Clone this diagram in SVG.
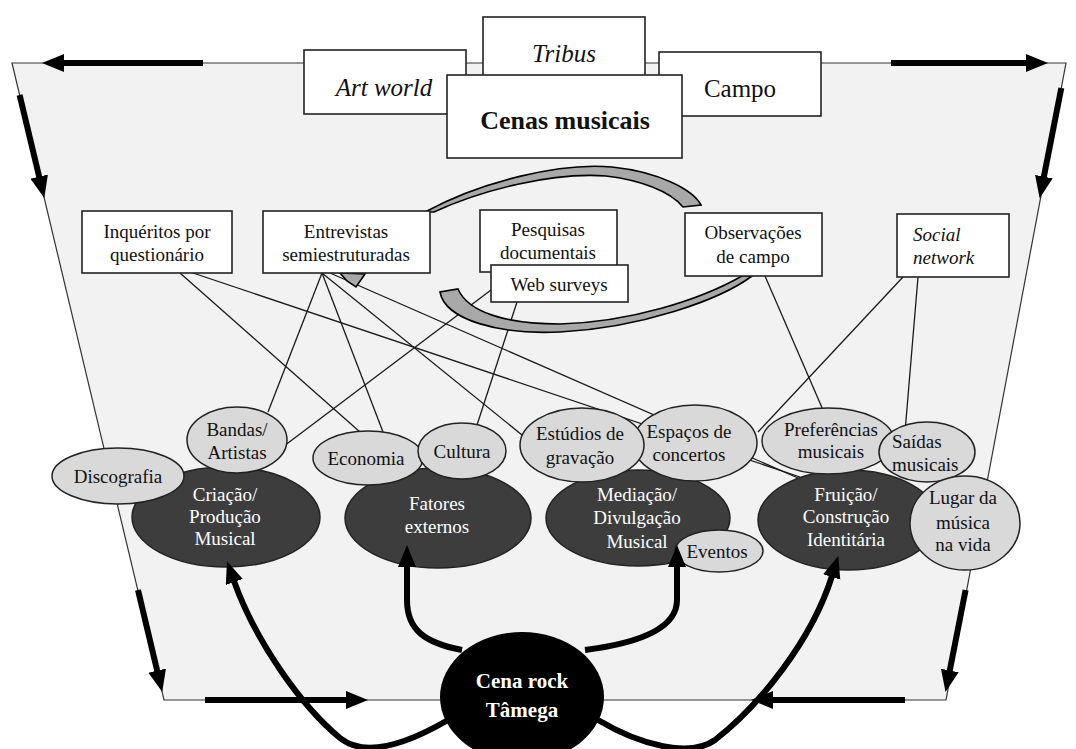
<svg xmlns="http://www.w3.org/2000/svg" width="1076" height="749" viewBox="0 0 1076 749" font-family="'Liberation Serif', 'Times New Roman', serif">
  <style>
    .bg { fill: #f2f2f2; stroke: #333; stroke-width: 1.2; }
    .box { fill: #fff; stroke: #222; stroke-width: 1.6; }
    .lite { fill: #d9d9d9; stroke: #222; stroke-width: 1.5; }
    .dark { fill: #3d3d3d; stroke: #222; stroke-width: 1.5; }
    .link { stroke: #1a1a1a; stroke-width: 1.3; fill: none; }
    .thick { stroke: #000; stroke-width: 6; fill: none; marker-end: url(#ah); }
    .band { fill: #a8a8a8; stroke: #000; stroke-width: 1.6; }
    text { font-family: "Liberation Serif", "Times New Roman", serif; fill: #111; }
    .t { font-size: 19px; text-anchor: middle; }
    .tl { font-size: 19px; text-anchor: start; }
    .w { fill: #fff; }
    .big { font-size: 25px; text-anchor: middle; }
    .it { font-style: italic; }
    .b { font-weight: bold; }
  </style>
  <defs>
    <marker id="ah" markerUnits="userSpaceOnUse" markerWidth="24" markerHeight="20" refX="1" refY="9" orient="auto">
      <path d="M0,0 L22,9 L0,18 Z" fill="#000"/>
    </marker>
  </defs>

  <!-- framing trapezoid -->
  <polygon class="bg" points="12,63 1066,63 946,700 164,700"/>

  <!-- flow arrows along the frame -->
  <g id="frame-arrows">
    <path class="thick" d="M203,63 L63,63"/>
    <path class="thick" d="M891,63 L1027,63"/>
    <path class="thick" d="M19.6,95 L39.4,177.6"/>
    <path class="thick" d="M138,590 L157.4,671.6"/>
    <path class="thick" d="M1061.3,88 L1043.7,177.6"/>
    <path class="thick" d="M965.6,590 L949.6,671.4"/>
    <path class="thick" d="M205,700 L347,700"/>
    <path class="thick" d="M905,700 L772,700"/>
  </g>

  <!-- method-to-dimension links -->
  <g id="connectors">
    <line class="link" x1="180" y1="273" x2="360" y2="432"/>
    <line class="link" x1="193" y1="273" x2="800" y2="477"/>
    <line class="link" x1="322" y1="273" x2="268" y2="412"/>
    <line class="link" x1="322" y1="273" x2="383" y2="432"/>
    <line class="link" x1="322" y1="273" x2="522" y2="435"/>
    <line class="link" x1="330" y1="273" x2="798" y2="478"/>
    <line class="link" x1="491" y1="290" x2="284" y2="446"/>
    <line class="link" x1="517" y1="302" x2="477" y2="425"/>
    <line class="link" x1="765" y1="276" x2="823" y2="410"/>
    <line class="link" x1="903" y1="277" x2="758" y2="432"/>
    <line class="link" x1="918" y1="277" x2="905" y2="432"/>
  </g>

  <!-- curved block arrows between methods -->
  <g id="loop-arrows">
    <path class="band" d="M425,212 C480,182 560,162 612,167 C660,172 693,190 701,205 L683,207 C670,191 640,180 606,176 C552,172 482,190 434,212 Z"/>
    <polygon class="band" points="340,273 365,274 356,287 347,281"/>
    <path class="band" d="M440,292 C445,320 500,335 560,332 C640,328 720,300 752,276 L742,276 C700,300 630,322 560,324 C505,324 468,312 458,289 Z"/>
  </g>

  <!-- theoretical frames -->
  <g id="tribus"><rect class="box" x="483" y="17" width="162" height="65"/><text class="big it" x="564" y="62">Tribus</text></g>
  <g id="art-world"><rect class="box" x="304" y="50" width="162" height="64"/><text class="big it" x="384" y="96">Art world</text></g>
  <g id="campo"><rect class="box" x="659" y="52" width="162" height="64"/><text class="big" x="740" y="97">Campo</text></g>
  <g id="cenas-musicais"><rect class="box" x="447" y="75" width="235" height="83"/><text class="big b" x="565" y="129" style="font-size:26px">Cenas musicais</text></g>

  <!-- research methods -->
  <g id="inqueritos"><rect class="box" x="82" y="211" width="150" height="62"/>
    <text class="t" x="157" y="238">Inquéritos por</text><text class="t" x="157" y="261">questionário</text></g>
  <g id="entrevistas"><rect class="box" x="263" y="211" width="167" height="62"/>
    <text class="t" x="346" y="238">Entrevistas</text><text class="t" x="346" y="261">semiestruturadas</text></g>
  <g id="pesquisas"><rect class="box" x="480" y="210" width="137" height="62"/>
    <text class="t" x="548" y="236">Pesquisas</text><text class="t" x="548" y="259">documentais</text></g>
  <g id="web-surveys"><rect class="box" x="491" y="265" width="137" height="37"/>
    <text class="t" x="559" y="291">Web surveys</text></g>
  <g id="observacoes"><rect class="box" x="685" y="213" width="137" height="63"/>
    <text class="t" x="753" y="239">Observações</text><text class="t" x="753" y="263">de campo</text></g>
  <g id="social-network"><rect class="box" x="897" y="214" width="112" height="63"/>
    <text class="tl it" x="913" y="241">Social</text><text class="tl it" x="913" y="264">network</text></g>

  <!-- creation / production -->
  <g id="criacao"><ellipse class="dark" cx="226" cy="517" rx="94" ry="50"/>
    <text class="t w" x="225" y="501">Criação/</text><text class="t w" x="225" y="523">Produção</text><text class="t w" x="225" y="545">Musical</text></g>
  <g id="discografia"><ellipse class="lite" cx="118" cy="476" rx="66" ry="28"/><text class="t" x="118" y="483">Discografia</text></g>
  <g id="bandas"><ellipse class="lite" cx="237" cy="440" rx="50" ry="33"/>
    <text class="t" x="237" y="436">Bandas/</text><text class="t" x="237" y="459">Artistas</text></g>

  <!-- external factors -->
  <g id="fatores"><ellipse class="dark" cx="438" cy="518" rx="93" ry="50"/>
    <text class="t w" x="437" y="510">Fatores</text><text class="t w" x="437" y="533">externos</text></g>
  <g id="economia"><ellipse class="lite" cx="368" cy="458" rx="55" ry="27"/><text class="t" x="366" y="465">Economia</text></g>
  <g id="cultura"><ellipse class="lite" cx="462" cy="451" rx="44" ry="28"/><text class="t" x="462" y="458">Cultura</text></g>

  <!-- mediation -->
  <g id="mediacao"><ellipse class="dark" cx="638" cy="518" rx="92" ry="48"/>
    <text class="t w" x="637" y="501">Mediação/</text><text class="t w" x="637" y="524">Divulgação</text><text class="t w" x="637" y="548">Musical</text></g>
  <g id="espacos"><ellipse class="lite" cx="695" cy="443" rx="62" ry="38"/>
    <text class="t" x="689" y="438">Espaços de</text><text class="t" x="689" y="461">concertos</text></g>
  <g id="estudios"><ellipse class="lite" cx="582" cy="445" rx="62" ry="37"/>
    <text class="t" x="580" y="440">Estúdios de</text><text class="t" x="580" y="464">gravação</text></g>
  <g id="eventos"><ellipse class="lite" cx="719" cy="551" rx="44" ry="21"/><text class="t" x="717" y="558">Eventos</text></g>

  <!-- enjoyment / identity -->
  <g id="fruicao"><ellipse class="dark" cx="848" cy="520" rx="90" ry="50"/>
    <text class="t w" x="846" y="501">Fruição/</text><text class="t w" x="846" y="523">Construção</text><text class="t w" x="846" y="546">Identitária</text></g>
  <g id="preferencias"><ellipse class="lite" cx="828" cy="441" rx="66" ry="33"/>
    <text class="t" x="831" y="436">Preferências</text><text class="t" x="831" y="458">musicais</text></g>
  <g id="saidas"><ellipse class="lite" cx="927" cy="452" rx="48" ry="30"/>
    <text class="tl" x="892" y="448">Saídas</text><text class="tl" x="892" y="471">musicais</text></g>
  <g id="lugar"><ellipse class="lite" cx="965" cy="523" rx="55" ry="47"/>
    <text class="t" x="963" y="504">Lugar da</text><text class="t" x="963" y="529">música</text><text class="t" x="963" y="551">na vida</text></g>

  <!-- the scene feeding each dimension -->
  <g id="scene-links">
    <path class="thick" d="M448,720 C405,745 365,758 340,738 C300,705 255,640 234,581"/>
    <path class="thick" d="M598,720 C640,745 690,758 715,740 C760,705 812,640 832,576"/>
    <path class="thick" d="M462,650 C425,643 407,630 407,600 L407,566"/>
    <path class="thick" d="M585,650 C640,643 677,628 677,600 L677,566"/>
  </g>

  <g id="cena-rock"><ellipse cx="522" cy="697" rx="82" ry="65" fill="#000"/>
    <text class="t w b" x="522" y="688" style="font-size:21px">Cena rock</text>
    <text class="t w b" x="522" y="717" style="font-size:21px">Tâmega</text></g>
</svg>
